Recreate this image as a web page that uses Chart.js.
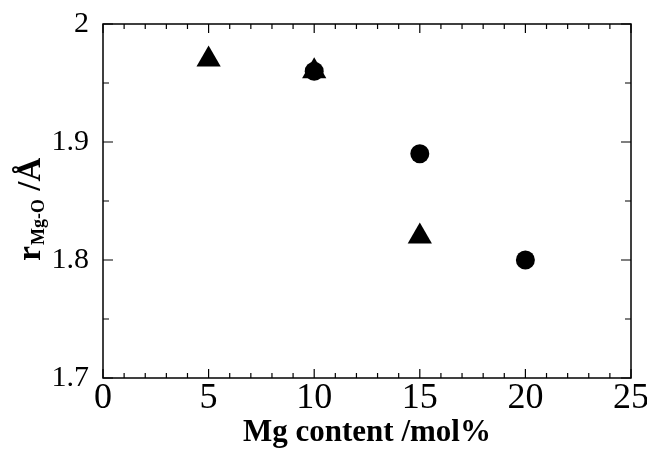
<!DOCTYPE html>
<html>
<head>
<meta charset="utf-8">
<script src="https://cdn.jsdelivr.net/npm/chart.js@4.4.1/dist/chart.umd.min.js"></script>
<style>
    html, body { margin: 0; padding: 0; background: #fff; }
    #wrap { width: 647px; height: 451px; }
</style>
</head>
<body>
<div id="wrap"><canvas id="chart"></canvas></div>
<script>
// values
const triangleX = [5, 10, 15];
const triangleY = [1.97, 1.96, 1.82];
const circleX = [10, 15, 20];
const circleY = [1.96, 1.89, 1.80];

const xTicks = [0, 5, 10, 15, 20, 25];
const yTicks = [1.7, 1.8, 1.9, 2.0];
const yTickLabels = ['1.7', '1.8', '1.9', '2'];

const SERIF = '"Liberation Serif", "DejaVu Serif", serif';

// frame, inward ticks on all four sides, axis titles
const framePlugin = {
    id: 'frame',
    afterDraw(chart) {
        const { ctx, chartArea: a } = chart;
        const xs = chart.scales.x;
        const ys = chart.scales.y;
        ctx.save();
        ctx.strokeStyle = '#000';
        ctx.lineWidth = 1.5;
        ctx.strokeRect(a.left, a.top, a.right - a.left, a.bottom - a.top);

        ctx.lineWidth = 1.2;
        ctx.beginPath();
        for (let v = 0; v <= 25; v++) {
            const px = xs.getPixelForValue(v);
            const len = v % 5 === 0 ? 9 : 5;
            ctx.moveTo(px, a.bottom); ctx.lineTo(px, a.bottom - len);
            ctx.moveTo(px, a.top); ctx.lineTo(px, a.top + len);
        }
        for (let i = 0; i <= 6; i++) {
            const v = 1.7 + i * 0.05;
            const py = ys.getPixelForValue(v);
            const len = i % 2 === 0 ? 10 : 6;
            ctx.moveTo(a.left, py); ctx.lineTo(a.left + len, py);
            ctx.moveTo(a.right, py); ctx.lineTo(a.right - len, py);
        }
        ctx.stroke();

        // x title
        ctx.fillStyle = '#000';
        ctx.font = 'bold 31px ' + SERIF;
        ctx.textAlign = 'center';
        ctx.textBaseline = 'alphabetic';
        ctx.fillText('Mg content /mol%', (a.left + a.right) / 2, 441);

        // y title with subscript
        ctx.translate(40, 261);
        ctx.rotate(-Math.PI / 2);
        ctx.textAlign = 'left';
        ctx.font = 'bold 34px ' + SERIF;
        ctx.fillText('r', 0, 0);
        let off = ctx.measureText('r').width + 1;
        ctx.font = 'bold 18px ' + SERIF;
        ctx.fillText('Mg-O', off, 4);
        off += ctx.measureText('Mg-O').width;
        ctx.font = 'bold 33px ' + SERIF;
        ctx.fillText(' /Å', off, 0);
        ctx.restore();
    }
};

new Chart(document.getElementById('chart'), {
    type: 'scatter',
    data: {
        datasets: [
            {
                label: 'circle',
                data: circleX.map((x, i) => ({ x: x, y: circleY[i] })),
                pointStyle: 'circle',
                pointRadius: 9.5,
                backgroundColor: '#000',
                borderColor: '#000',
                borderWidth: 0
            },
            {
                label: 'triangle',
                data: triangleX.map((x, i) => ({ x: x, y: triangleY[i] })),
                pointStyle: 'triangle',
                pointRadius: 14,
                backgroundColor: '#000',
                borderColor: '#000',
                borderWidth: 0
            }
        ]
    },
    options: {
        responsive: true,
        maintainAspectRatio: false,
        animation: false,
        layout: { padding: { left: 0, top: 23, right: 16, bottom: 0 } },
        plugins: {
            legend: { display: false },
            tooltip: { enabled: false }
        },
        scales: {
            x: {
                type: 'linear',
                min: 0,
                max: 25,
                grid: { display: false },
                border: { display: false },
                afterFit: s => { s.height = 73; },
                afterBuildTicks: s => { s.ticks = xTicks.map(v => ({ value: v })); },
                ticks: {
                    color: '#000',
                    font: { family: SERIF, size: 36 },
                    padding: -9,
                    maxRotation: 0,
                    autoSkip: false
                }
            },
            y: {
                type: 'linear',
                min: 1.7,
                max: 2.0,
                grid: { display: false },
                border: { display: false },
                afterFit: s => { s.width = 103; },
                afterBuildTicks: s => { s.ticks = yTicks.map(v => ({ value: v })); },
                ticks: {
                    color: '#000',
                    font: { family: SERIF, size: 30 },
                    padding: 6,
                    autoSkip: false,
                    callback: (v, i) => yTickLabels[i]
                }
            }
        }
    },
    plugins: [framePlugin]
});
</script>
</body>
</html>
